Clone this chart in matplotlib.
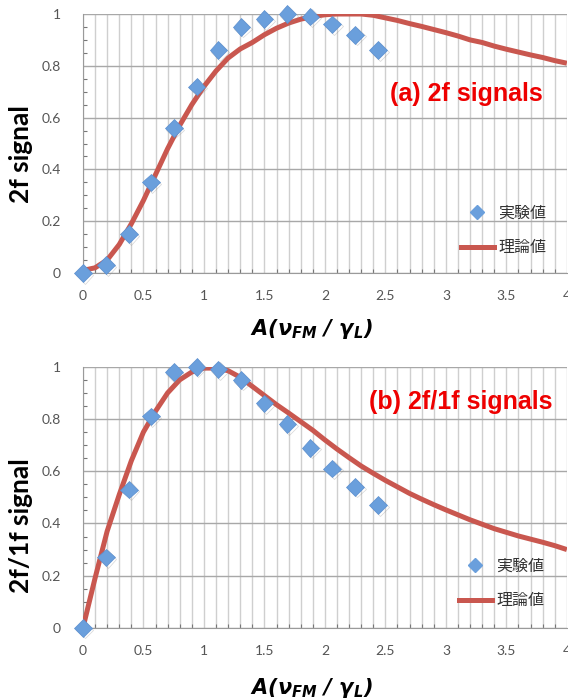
import matplotlib
matplotlib.use("Agg")
import matplotlib.pyplot as plt
import matplotlib.patheffects as pe
from matplotlib.ticker import MultipleLocator

plt.rcParams['font.family'] = ['Lato', 'Noto Sans CJK JP', 'DejaVu Sans']
plt.rcParams['mathtext.fontset'] = 'custom'
plt.rcParams['mathtext.bf'] = 'DejaVu Sans:italic:bold'
plt.rcParams['mathtext.it'] = 'DejaVu Sans:italic:bold'

# measured points (experiment)
exp_x = [0, 0.19, 0.38, 0.56, 0.75, 0.94, 1.12, 1.31, 1.50, 1.69, 1.88, 2.06, 2.25, 2.44]
exp_2f = [0, 0.03, 0.15, 0.35, 0.56, 0.72, 0.86, 0.95, 0.98, 1.0, 0.99, 0.96, 0.92, 0.86]
exp_2f1f = [0, 0.27, 0.53, 0.81, 0.98, 1.0, 0.99, 0.95, 0.86, 0.78, 0.69, 0.61, 0.54, 0.47]

# theory curves, every 0.1
th_x = [i / 10 for i in range(41)]
th_2f = [0.01, 0.02, 0.05, 0.11, 0.19, 0.28, 0.38, 0.48, 0.57, 0.65,
         0.72, 0.78, 0.83, 0.865, 0.89, 0.92, 0.945, 0.965, 0.98, 0.99,
         0.997, 1.0, 1.0, 1.0, 0.995, 0.985, 0.975, 0.963, 0.952, 0.94,
         0.928, 0.915, 0.90, 0.89, 0.876, 0.864, 0.853, 0.842, 0.832, 0.82,
         0.81]
th_2f1f = [0, 0.19, 0.37, 0.51, 0.64, 0.75, 0.83, 0.90, 0.95, 0.98,
           0.995, 0.995, 0.985, 0.96, 0.925, 0.89, 0.855, 0.823, 0.79, 0.757,
           0.72, 0.685, 0.652, 0.62, 0.592, 0.565, 0.54, 0.515, 0.493, 0.472,
           0.452, 0.433, 0.414, 0.397, 0.38, 0.366, 0.352, 0.34, 0.328, 0.315,
           0.30]

legend_labels = ['実験値', '理論値']
x_ticks = [0, 0.5, 1, 1.5, 2, 2.5, 3, 3.5, 4]
y_ticks = [0, 0.2, 0.4, 0.6, 0.8, 1]

blue = '#6a9fdc'
red = '#c9574f'

fig = plt.figure(figsize=(5.68, 7.0), dpi=100)


def panel(rect, ex, ey, tx, ty, ylabel, ylabel_y, xlabel_y, title, title_pos, leg_pos):
    ax = fig.add_axes(rect)
    ax.set_xlim(0, 4)
    ax.set_ylim(0, 1)
    ax.xaxis.set_minor_locator(MultipleLocator(0.1))
    ax.yaxis.set_minor_locator(MultipleLocator(0.05))
    ax.set_xticks(x_ticks)
    ax.set_xticklabels([f'{t:g}' for t in x_ticks])
    ax.set_yticks(y_ticks)
    ax.set_yticklabels([f'{t:g}' for t in y_ticks])
    ax.grid(which='both', axis='x', color='#cfcfcf', lw=1.0)
    ax.grid(which='major', axis='y', color='#a8a8a8', lw=1.0)
    ax.set_axisbelow(True)
    for s in ['top', 'right']:
        ax.spines[s].set_visible(False)
    for s in ['left', 'bottom']:
        ax.spines[s].set_color('#9a9a9a')
    ax.tick_params(which='both', direction='in', color='#777777')
    ax.tick_params(which='major', length=0, labelsize=10, labelcolor='#555555')
    ax.tick_params(axis='x', which='major', pad=12)
    ax.tick_params(axis='y', which='major', pad=16)
    ax.tick_params(which='minor', length=3, width=0.8)

    ax.plot(tx, ty, color=red, lw=3.6, solid_capstyle='butt', solid_joinstyle='round', zorder=3)
    ax.plot(ex, ey, 'D', ms=9, color=blue, mec='#5b8fcf', mew=0.5, zorder=4, clip_on=False,
            path_effects=[pe.SimpleLineShadow(offset=(1.2, -1.2), shadow_color='#888888', alpha=0.35),
                          pe.Normal()])

    ax.set_ylabel(ylabel, fontsize=19, fontweight='bold', va='center')
    ax.yaxis.set_label_coords(-0.127, ylabel_y)
    ax.set_xlabel(r'$\mathbf{A(\nu_{FM}\ /\ \gamma_L)}$', fontsize=15)
    ax.xaxis.set_label_coords(0.471, xlabel_y)
    ax.text(title_pos[0], title_pos[1], title, transform=ax.transAxes, ha='right', va='center',
            color='#ee0000', fontsize=18, fontweight='bold', family='Liberation Sans')

    # legend
    lx, ly = leg_pos
    h1, = ax.plot([], [], 'D', ms=7, color=blue)
    h2, = ax.plot([], [], color=red, lw=3.6)
    leg = ax.legend([h1, h2], legend_labels, loc='upper left', bbox_to_anchor=(lx, ly),
                    frameon=False, borderpad=0, handlelength=2.1, handletextpad=0.25,
                    labelspacing=1.1, prop={'family': 'Noto Sans CJK JP', 'size': 11.5})
    for t in leg.get_texts():
        t.set_color('#333333')
    return ax


panel([0.146, 0.61, 0.852, 0.37], exp_x, exp_2f, th_x, th_2f,
      '2f signal', 0.46, -0.17, '(a) 2f signals', (0.95, 0.69), (0.764, 0.295))
panel([0.146, 0.103, 0.852, 0.373], exp_x, exp_2f1f, th_x, th_2f1f,
      '2f/1f signal', 0.39, -0.185, '(b) 2f/1f signals', (0.97, 0.865), (0.76, 0.30))

fig.savefig('out.png', dpi=100)
